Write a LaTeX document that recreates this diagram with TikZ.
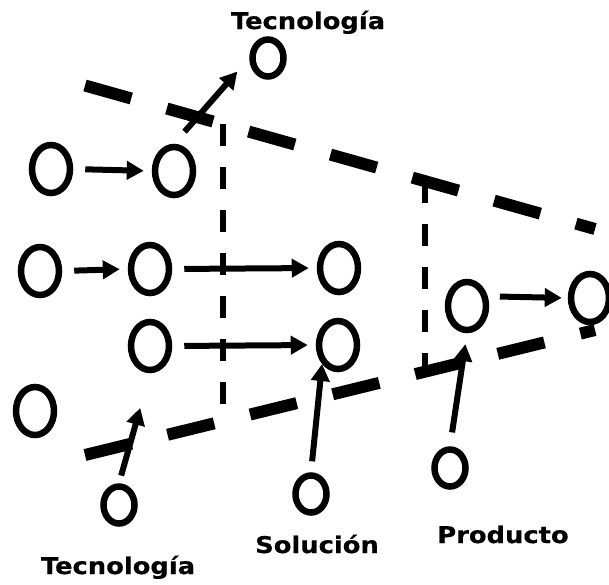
\documentclass[tikz,border=0pt]{standalone}
\usepackage{fontspec}
\newfontfamily\lblfont{DejaVu Sans}[FakeStretch=1.12, BoldFeatures={FakeBold=0.5}]
\usetikzlibrary{arrows.meta, shapes.geometric, calc}

\begin{document}
\begin{tikzpicture}[x=1pt, y=-1pt,
    blob/.style={draw, ellipse, line width=6.5pt, minimum width=38pt, minimum height=48pt, inner sep=0pt},
    dot/.style={blob, minimum width=31pt, minimum height=37pt},
    arr/.style={-{Triangle[length=17pt,width=18pt]}, line width=6pt, shorten <=12pt, shorten >=8pt},
    stage/.style={line width=12pt, dash pattern=on 48pt off 37pt},
    cut/.style={line width=6pt, dash pattern=on 22pt off 21pt},
    lbl/.style={font=\lblfont\bfseries\fontsize{23}{27}\selectfont, inner sep=0pt, anchor=base}]
\useasboundingbox (0,0) rectangle (609,584);

\coordinate (tl) at (85,85.5);
\coordinate (tr) at (595,229);
\coordinate (bl) at (85,455);
\coordinate (br) at (595,330);
\draw[stage] (tl) -- (tr);
\draw[stage] (bl) -- (br);

\coordinate (v1top) at ($(tl)!0.2706!(tr)$);
\coordinate (v1bot) at ($(bl)!0.2706!(br)$);
\coordinate (v2top) at ($(tl)!0.6667!(tr)$);
\coordinate (v2bot) at ($(bl)!0.6667!(br)$);
\draw[cut] (v1top) -- (v1bot);
\draw[cut] (v2top) -- (v2bot);

\foreach \n/\x/\y in {a1/51/169, a2/174/171, b1/40/271, b2/150/269, b3/339/268,
                      c1/150/346, c2/338/345, d1/35/411, p1/467/306, p2/590/298} {
    \node[blob] (\n) at (\x,\y) {};
}
\foreach \n/\x/\y in {ttop/268/58, tbot/119/505, sol/311/494, prod/450/468} {
    \node[dot] (\n) at (\x,\y) {};
}

\node[lbl] (ttoplbl) at (308,29) {Tecnología};
\node[lbl] (tbotlbl) at (118,574) {Tecnología};
\node[lbl] (sollbl) at (317,553) {Solución};
\node[lbl] (prodlbl) at (503,543) {Producto};

\draw[arr] (a1.east) -- (a2.west);
\draw[arr, shorten <=16pt, shorten >=18pt] (a2.north) -- (ttop.west);
\draw[arr] (b1.east) -- (b2.west);
\draw[arr] (b2.east) -- (b3.west);
\draw[arr] (c1.east) -- (c2.west);
\draw[arr, shorten <=8pt, shorten >=36pt] (tbot.north) -- (c1.south);
\draw[arr, shorten <=11pt, shorten >=0pt] (sol.north) -- (c2.230);
\draw[arr, shorten <=14pt, shorten >=11pt] (prod.north) -- (p1.south);
\draw[arr, shorten >=6pt] (p1.25) -- (p2.west);
\end{tikzpicture}
\end{document}
